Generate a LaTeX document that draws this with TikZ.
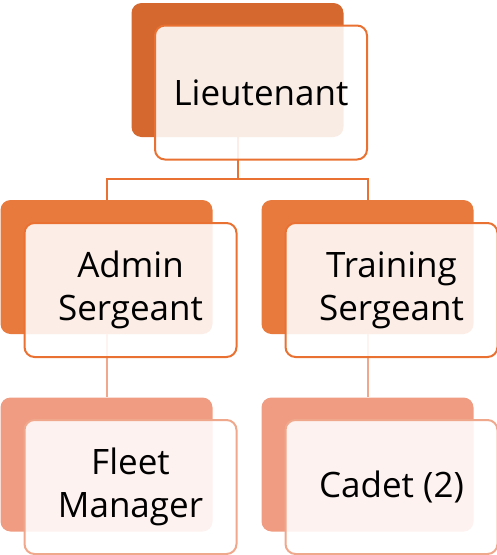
\documentclass[tikz,border=0pt]{standalone}
\usepackage{fontspec}
\setmainfont{Open Sans}
\usetikzlibrary{backgrounds}
\definecolor{rankone}{HTML}{D5682F}
\definecolor{ranktwo}{HTML}{E97A3E}
\definecolor{rankthree}{HTML}{EF9C82}
\definecolor{edgeone}{HTML}{E97132}
\definecolor{edgethree}{HTML}{F0A88C}
\begin{document}
\begin{tikzpicture}[x=1pt,y=-1pt,
	every node/.style={rounded corners=10pt, minimum width=212pt, minimum height=134pt, inner sep=0pt},
	back/.style={fill=#1},
	front/.style={draw=#1, line width=2pt, fill=white, fill opacity=.88, text opacity=1, align=center, font=\fontsize{35}{43}\selectfont},
	link/.style={draw=#1, line width=2pt}]
	\useasboundingbox (0,0) rectangle (497,555);
	% top
	\node[back=rankone] (lieuB) at (237.5,70){};
	\node[front=edgeone] (lieu) at (261,92.5){Lieutenant};
	% middle row
	\node[back=ranktwo] (adminB) at (106.5,267){};
	\node[front=edgeone] (admin) at (130.5,290){Admin\\Sergeant};
	\node[back=ranktwo] (trainB) at (367.5,267){};
	\node[front=edgeone] (train) at (391.5,290){Training\\Sergeant};
	% bottom row
	\node[back=rankthree] (fleetB) at (106.5,464.5){};
	\node[front=edgethree] (fleet) at (130.5,487){Fleet\\Manager};
	\node[back=rankthree] (cadetB) at (367.5,464.5){};
	\node[front=edgethree] (cadet) at (391.5,487){Cadet (2)};
	\begin{scope}[on background layer]
	\draw[link=edgeone] (lieuB.south)--++(0,42)-|(adminB.north);
	\draw[link=edgeone] (lieuB.south)--++(0,42)-|(trainB.north);
	\draw[link=edgethree] (adminB.south)--(fleetB.north);
	\draw[link=edgethree] (trainB.south)--(cadetB.north);
	\end{scope}
\end{tikzpicture}
\end{document}
